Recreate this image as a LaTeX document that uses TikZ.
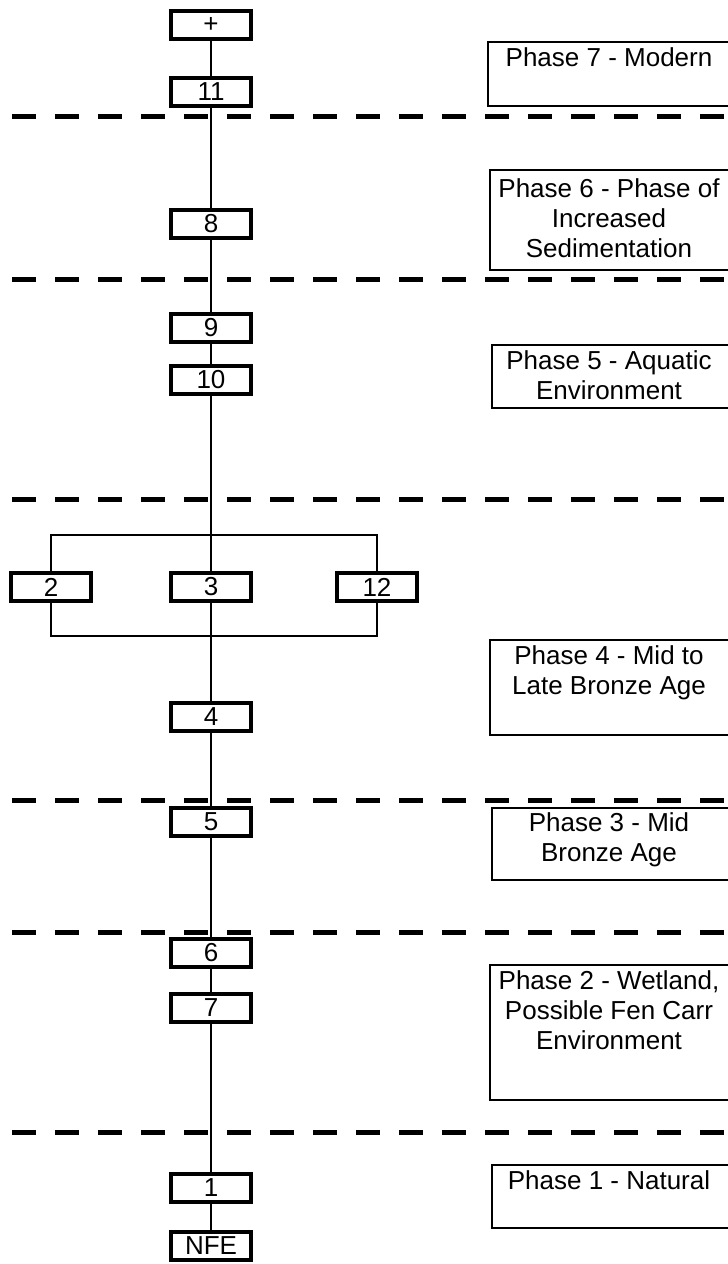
\documentclass[tikz,border=0pt]{standalone}
\usepackage{fontspec}
\setmainfont{Liberation Sans}
\begin{document}
\begin{tikzpicture}[x=1pt,y=-1pt,
 box/.style={draw,line width=3.5pt,minimum width=80pt,minimum height=28pt,inner sep=0pt,font=\fontsize{26}{30}\selectfont},
 conn/.style={line width=1.3pt},
 sep/.style={line width=5pt,dash pattern=on 24pt off 19pt},
 phase/.style={draw,line width=1.6pt},
 ptext/.style={anchor=north,align=center,inner sep=0pt,font=\fontsize{26}{30}\selectfont}]
\useasboundingbox (0,0) rectangle (728,1264);
% separators
\foreach \yy in {116,279,499,800,932,1132}{\draw[sep] (12,\yy) -- (740,\yy);}
% boxes
\node[box] (plus) at (211,25) {+};
\node[box] (n11) at (211,92) {11};
\node[box] (n8) at (211,224) {8};
\node[box] (n9) at (211,328) {9};
\node[box] (n10) at (211,380) {10};
\node[box] (n2) at (51,587) {2};
\node[box] (n3) at (211,587) {3};
\node[box] (n12) at (377,587) {12};
\node[box] (n4) at (211,717) {4};
\node[box] (n5) at (211,822) {5};
\node[box] (n6) at (211,953) {6};
\node[box] (n7) at (211,1008) {7};
\node[box] (n1) at (211,1188) {1};
\node[box] (nfe) at (211,1246) {NFE};
\coordinate (bt) at (211,535);
\coordinate (bb) at (211,636);
% connectors
\draw[conn] (plus) -- (n11);
\draw[conn] (n11) -- (n8);
\draw[conn] (n8) -- (n9);
\draw[conn] (n9) -- (n10);
\draw[conn] (n10) -- (n3);
\draw[conn] (n3) -- (n4);
\draw[conn] (n2) |- (bt) -| (n12);
\draw[conn] (n2) |- (bb) -| (n12);
\draw[conn] (n4) -- (n5);
\draw[conn] (n5) -- (n6);
\draw[conn] (n6) -- (n7);
\draw[conn] (n7) -- (n1);
\draw[conn] (n1) -- (nfe);
% phase boxes
\draw[phase] (488,42) rectangle (740,106);
\node[ptext] (p7) at (609,47) {Phase 7 - Modern};
\draw[phase] (490,170) rectangle (740,270);
\node[ptext] (p6) at (609,178) {Phase 6 - Phase of\\Increased\\Sedimentation};
\draw[phase] (492,345) rectangle (740,408);
\node[ptext] (p5) at (609,350) {Phase 5 - Aquatic\\Environment};
\draw[phase] (490,640) rectangle (740,735);
\node[ptext] (p4) at (609,645) {Phase 4 - Mid to\\Late Bronze Age};
\draw[phase] (492,808) rectangle (740,880);
\node[ptext] (p3) at (609,812) {Phase 3 - Mid\\Bronze Age};
\draw[phase] (490,965) rectangle (740,1100);
\node[ptext] (p2) at (609,970) {Phase 2 - Wetland,\\Possible Fen Carr\\Environment};
\draw[phase] (492,1165) rectangle (740,1228);
\node[ptext] (p1) at (609,1170) {Phase 1 - Natural};
\end{tikzpicture}
\end{document}
